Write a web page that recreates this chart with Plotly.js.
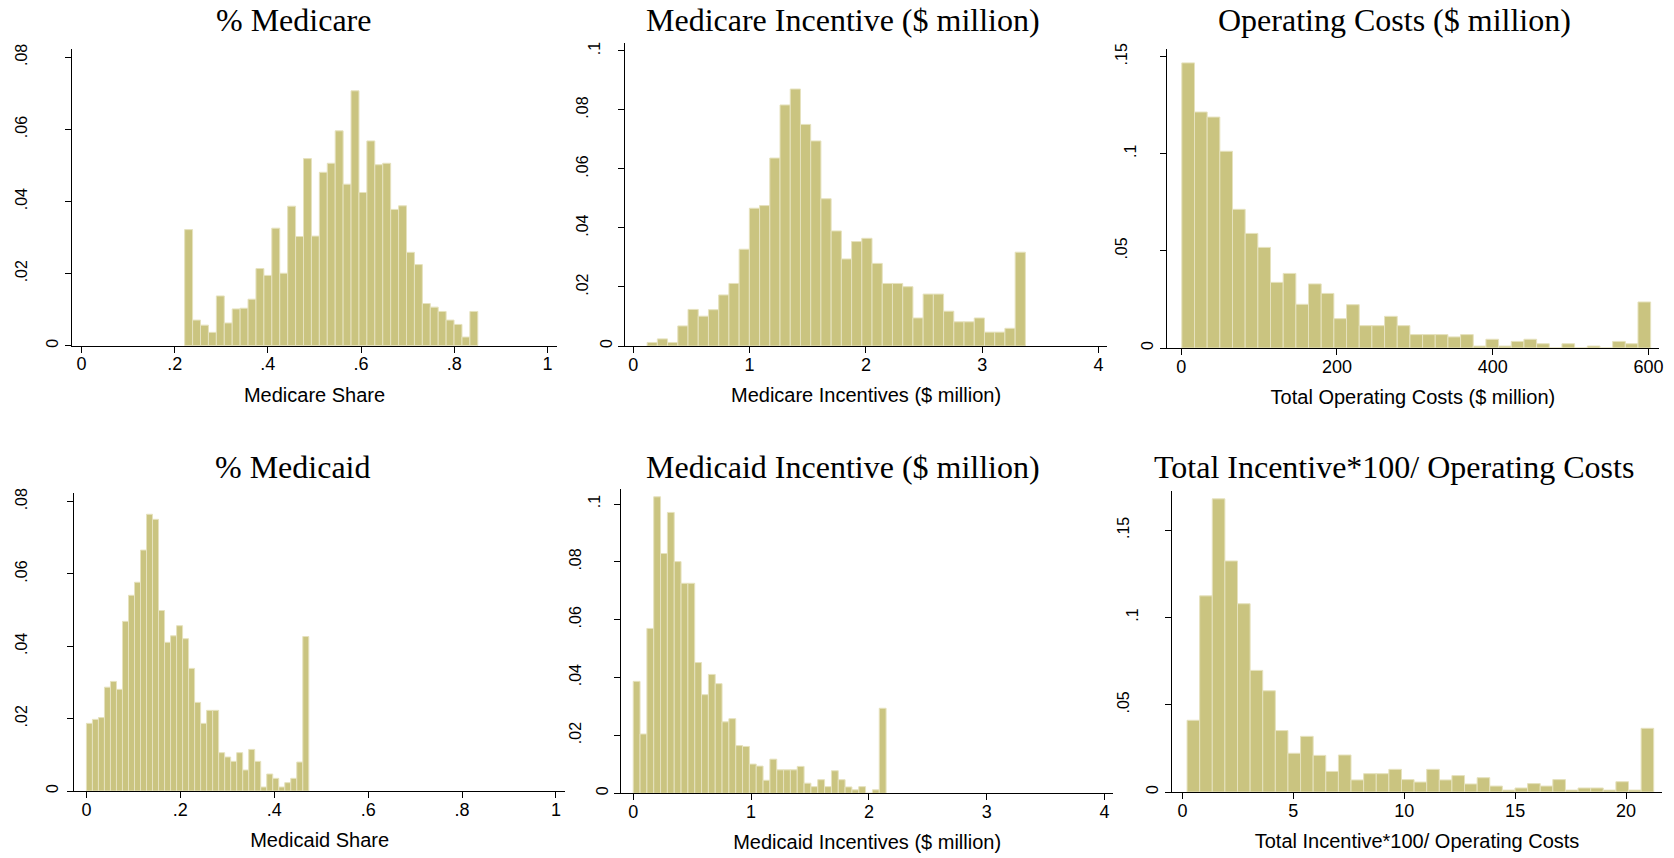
<!DOCTYPE html>
<html>
<head>
<meta charset="utf-8">
<script src="https://cdn.plot.ly/plotly-3.0.1.min.js"></script>
<style>
  html, body { margin: 0; padding: 0; background: #ffffff; }
  #chart { width: 1674px; height: 858px; }
</style>
</head>
<body>
<div id="chart"></div>
<script>
// ---------------- DATA (histogram densities) ----------------
// Each histogram: 37 bins, given by bin start, bin width and density per bin.
const medicareShareStart = 0.2215;
const medicareShareWidth = 0.0170;
const medicareShareDensity = [0.0322,0.0071,0.0057,0.0037,0.0138,0.0063,0.0102,0.0104,0.0129,0.0214,
  0.0195,0.0326,0.0201,0.0387,0.0303,0.0519,0.0304,0.0481,0.0506,0.0596,0.0448,0.0707,0.0425,0.0568,
  0.0502,0.0506,0.0378,0.0388,0.0259,0.0225,0.0117,0.0107,0.0095,0.0071,0.0059,0.0024,0.0095];

const medicareIncStart = 0.1197;
const medicareIncWidth = 0.08787;
const medicareIncDensity = [0.0012,0.0024,0.0012,0.0068,0.0124,0.0101,0.0123,0.0173,0.0212,0.0328,
  0.0467,0.0476,0.0637,0.0817,0.0871,0.0751,0.0695,0.0499,0.0390,0.0295,0.0354,0.0365,0.0280,0.0212,
  0.0212,0.0201,0.0095,0.0176,0.0176,0.0118,0.0082,0.0082,0.0095,0.0047,0.0047,0.0060,0.0318];

const opCostStart = 0.8;
const opCostWidth = 16.27;
const opCostDensity = [0.1468,0.1215,0.1189,0.1013,0.0714,0.0590,0.0518,0.0338,0.0384,0.0225,
  0.0330,0.0281,0.0151,0.0223,0.0115,0.0115,0.0163,0.0115,0.0069,0.0069,0.0069,0.0057,0.0069,0.0010,
  0.0045,0.0010,0.0034,0.0045,0.0022,0,0.0022,0,0.0010,0,0.0034,0.0022,0.0237];

const medicaidShareStart = 0;
const medicaidShareWidth = 0.0128;
const medicaidShareDensity = [0.0187,0.0198,0.0203,0.0287,0.0303,0.0281,0.0469,0.0541,0.0577,0.0666,
  0.0765,0.0751,0.0499,0.0411,0.0429,0.0457,0.0421,0.0339,0.0245,0.0187,0.0223,0.0223,0.0106,0.0094,
  0.0082,0.0106,0.0058,0.0115,0.0082,0.0011,0.0047,0.0035,0.0011,0.0023,0.0035,0.0080,0.0427];

const medicaidIncStart = 0;
const medicaidIncWidth = 0.058;
const medicaidIncDensity = [0.0387,0.0205,0.0570,0.1025,0.0829,0.0971,0.0801,0.0726,0.0726,0.0452,
  0.0341,0.0411,0.0379,0.0247,0.0258,0.0165,0.0162,0.0101,0.0094,0.0045,0.0118,0.0081,0.0081,0.0081,
  0.0093,0.0035,0.0023,0.0047,0.0023,0.0078,0.0047,0.0022,0.0012,0.0023,0,0.0012,0.0294];

const ratioStart = 0.21;
const ratioWidth = 0.5686;
const ratioDensity = [0.0411,0.1124,0.1680,0.1324,0.1079,0.0697,0.0580,0.0352,0.0222,0.0319,
  0.0210,0.0118,0.0212,0.0069,0.0105,0.0105,0.0130,0.0071,0.0057,0.0130,0.0069,0.0094,0.0046,0.0082,
  0.0034,0.0011,0.0023,0.0048,0.0034,0.0071,0.0011,0.0023,0.0023,0.0011,0.0059,0.0011,0.0365];

// Tick values and labels
const shareTicks = [0, 0.2, 0.4, 0.6, 0.8, 1];
const shareTickText = ['0', '.2', '.4', '.6', '.8', '1'];
const incentiveTicks = [0, 1, 2, 3, 4];
const incentiveTickText = ['0', '1', '2', '3', '4'];
const costTicks = [0, 200, 400, 600];
const costTickText = ['0', '200', '400', '600'];
const ratioTicks = [0, 5, 10, 15, 20];
const ratioTickText = ['0', '5', '10', '15', '20'];
const density08Ticks = [0, 0.02, 0.04, 0.06, 0.08];
const density08TickText = ['0', '.02', '.04', '.06', '.08'];
const density10Ticks = [0, 0.02, 0.04, 0.06, 0.08, 0.1];
const density10TickText = ['0', '.02', '.04', '.06', '.08', '.1'];
const density15Ticks = [0, 0.05, 0.1, 0.15];
const density15TickText = ['0', '.05', '.1', '.15'];

// Titles
const panelTitles = ['% Medicare', 'Medicare Incentive ($ million)', 'Operating Costs ($ million)',
                     '% Medicaid', 'Medicaid Incentive ($ million)', 'Total Incentive*100/ Operating Costs'];
const axisTitles = ['Medicare Share', 'Medicare Incentives ($ million)', 'Total Operating Costs ($ million)',
                    'Medicaid Share', 'Medicaid Incentives ($ million)', 'Total Incentive*100/ Operating Costs'];

// ---------------- LAYOUT / STYLE ----------------
const W = 1674, H = 858;
const BAR_FILL = 'rgb(202,196,128)';
const BAR_EDGE = 'rgb(230,226,190)';
const TICK_FONT = { family: 'Liberation Sans, Arial, sans-serif', size: 18, color: '#000' };
const YTICK_FONT = { family: 'Liberation Sans, Arial, sans-serif', size: 16, color: '#000' };
const AXTITLE_FONT = { family: 'Liberation Sans, Arial, sans-serif', size: 20, color: '#000' };
const TITLE_FONT = { family: 'Liberation Serif, Times New Roman, serif', size: 32, color: '#000' };

// plot boxes in px: [left, right, top, bottom]; ys = rotated label standoff by label length
const panels = [
  { start: medicareShareStart, width: medicareShareWidth, dens: medicareShareDensity,
    xt: shareTicks, xtt: shareTickText, yt: density08Ticks, ytt: density08TickText,
    box: [72.1, 557, 49, 345.7], xr: [-0.02, 1.0204], yr: [0, 0.0823], tx: 293, ty: 20.5,
    ys: { 1: 1, 2: 14, 3: 32 } },
  { start: medicareIncStart, width: medicareIncWidth, dens: medicareIncDensity,
    xt: incentiveTicks, xtt: incentiveTickText, yt: density10Ticks, ytt: density10TickText,
    box: [625, 1107.1, 43.3, 346], xr: [-0.0705, 4.0734], yr: [0, 0.1026], tx: 843, ty: 20.5,
    ys: { 1: 0, 2: 12, 3: 24 } },
  { start: opCostStart, width: opCostWidth, dens: opCostDensity,
    xt: costTicks, xtt: costTickText, yt: density15Ticks, ytt: density15TickText,
    box: [1166.5, 1659.3, 49.3, 348], xr: [-18.87, 613.9], yr: [0, 0.1538], tx: 1394, ty: 20.5,
    ys: { 1: 0, 2: 17, 3: 26 } },
  { start: medicaidShareStart, width: medicaidShareWidth, dens: medicaidShareDensity,
    xt: shareTicks, xtt: shareTickText, yt: density08Ticks, ytt: density08TickText,
    box: [74.3, 565, 493.3, 791], xr: [-0.0258, 1.0192], yr: [0, 0.0823], tx: 293, ty: 467.5,
    ys: { 1: 3, 2: 16, 3: 34 } },
  { start: medicaidIncStart, width: medicaidIncWidth, dens: medicaidIncDensity,
    xt: incentiveTicks, xtt: incentiveTickText, yt: density10Ticks, ytt: density10TickText,
    box: [621.4, 1112.9, 488.7, 793.3], xr: [-0.1002, 4.0707], yr: [0, 0.1053], tx: 843, ty: 467,
    ys: { 1: 0, 2: 8, 3: 27 } },
  { start: ratioStart, width: ratioWidth, dens: ratioDensity,
    xt: ratioTicks, xtt: ratioTickText, yt: density15Ticks, ytt: density15TickText,
    box: [1171.9, 1662.2, 491, 792], xr: [-0.473, 21.63], yr: [0, 0.1725], tx: 1394, ty: 467.5,
    ys: { 1: 1, 2: 21, 3: 30 } }
];

function axId(letter, n) { return n === 1 ? letter : letter + n; }
function axKey(letter, n) { return n === 1 ? letter + 'axis' : letter + 'axis' + n; }

const data = [];
const layout = {
  width: W, height: H,
  margin: { l: 0, r: 0, t: 0, b: 0 },
  paper_bgcolor: '#ffffff', plot_bgcolor: '#ffffff',
  showlegend: false, bargap: 0,
  annotations: []
};

let extraY = 7;
panels.forEach((p, i) => {
  const k = i + 1;
  const xs = p.dens.map((_, j) => p.start + (j + 0.5) * p.width);
  data.push({
    type: 'bar', x: xs, y: p.dens, width: p.width,
    xaxis: axId('x', k), yaxis: axId('y', k),
    marker: { color: BAR_FILL, line: { color: BAR_EDGE, width: 1 } },
    hoverinfo: 'x+y'
  });
  const xd = [p.box[0] / W, p.box[1] / W];
  const yd = [1 - p.box[3] / H, 1 - p.box[2] / H];
  layout[axKey('x', k)] = {
    domain: xd, range: p.xr, anchor: axId('y', k),
    showline: true, linecolor: '#000', linewidth: 1, mirror: false,
    ticks: 'outside', ticklen: 6, tickwidth: 1, tickcolor: '#000',
    tickmode: 'array', tickvals: p.xt, ticktext: p.xtt, tickfont: TICK_FONT,
    ticklabelstandoff: -4,
    showgrid: false, zeroline: false, fixedrange: true,
    title: { text: axisTitles[i], font: AXTITLE_FONT, standoff: 14 }
  };
  layout[axKey('y', k)] = {
    domain: yd, range: p.yr, anchor: axId('x', k),
    showline: true, linecolor: '#000', linewidth: 1,
    ticks: 'outside', ticklen: 6, tickwidth: 1, tickcolor: '#000',
    tickmode: 'array', tickvals: p.yt, showticklabels: false,
    showgrid: false, zeroline: false, fixedrange: true
  };
  // rotated density labels, grouped by label length: one overlaying axis per group
  const groups = {};
  p.ytt.forEach((t, j) => {
    const L = Math.min(3, t.length);
    groups[L] = groups[L] || { v: [], t: [] };
    groups[L].v.push(p.yt[j]); groups[L].t.push(t);
  });
  Object.keys(groups).forEach(L => {
    const id = extraY++;
    layout[axKey('y', id)] = {
      overlaying: axId('y', k), anchor: axId('x', k), side: 'left', range: p.yr,
      showline: false, ticks: 'outside', ticklen: 6, tickcolor: 'rgba(0,0,0,0)',
      tickmode: 'array', tickvals: groups[L].v, ticktext: groups[L].t,
      tickangle: -90, tickfont: YTICK_FONT, ticklabelstandoff: p.ys[L],
      showgrid: false, zeroline: false, fixedrange: true
    };
    // empty carrier trace so the label axis is drawn
    data.push({ type: 'scatter', mode: 'markers', x: [], y: [],
                xaxis: axId('x', k), yaxis: axId('y', id), hoverinfo: 'skip', showlegend: false });
  });
  layout.annotations.push({
    text: panelTitles[i], xref: 'paper', yref: 'paper',
    x: p.tx / W, y: 1 - p.ty / H, xanchor: 'center', yanchor: 'middle',
    showarrow: false, font: TITLE_FONT
  });
});

Plotly.newPlot('chart', data, layout, { displayModeBar: false, staticPlot: true });
</script>
</body>
</html>
